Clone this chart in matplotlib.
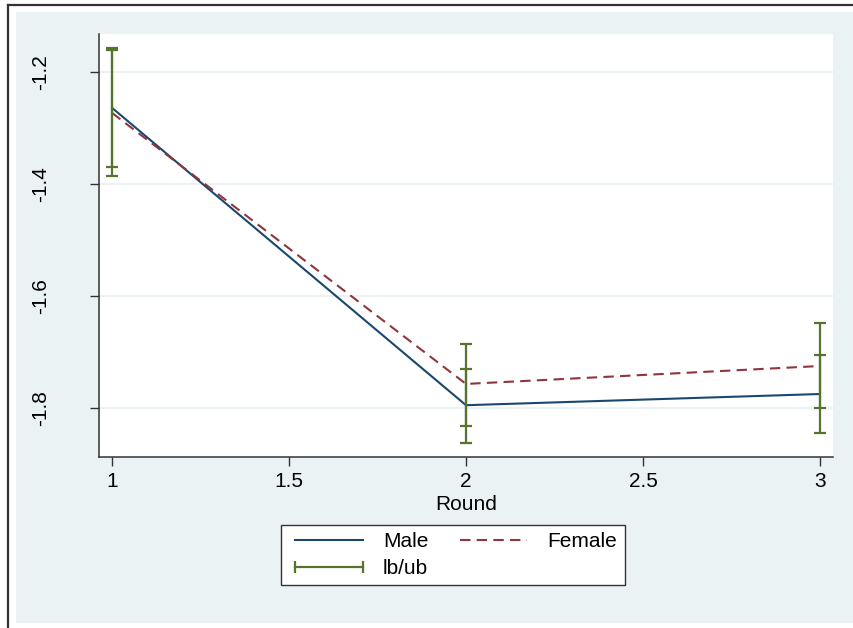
import matplotlib as mpl
mpl.use("Agg")
import matplotlib.pyplot as plt
from matplotlib.lines import Line2D
from matplotlib.patches import Rectangle
import numpy as np

rounds = [1, 2, 3]
male_mean = [-1.264, -1.795, -1.775]
female_mean = [-1.273, -1.757, -1.725]
male_lb = [-1.370, -1.862, -1.845]
male_ub = [-1.157, -1.730, -1.705]
female_lb = [-1.386, -1.832, -1.800]
female_ub = [-1.160, -1.686, -1.648]

xticks = [1, 1.5, 2, 2.5, 3]
xtick_labels = ["1", "1.5", "2", "2.5", "3"]
yticks = [-1.2, -1.4, -1.6, -1.8]
ytick_labels = ["-1.2", "-1.4", "-1.6", "-1.8"]

navy = "#1a476f"
maroon = "#90353b"
green = "#55752f"
bg = "#eaf2f3"

plt.rcParams["font.family"] = ["Liberation Sans", "DejaVu Sans"]
W, H = 854, 628
fig = plt.figure(figsize=(W / 100, H / 100), dpi=100)
fig.patch.set_facecolor("white")

# outer stata background and frame (cropped)
fig.patches.append(Rectangle((16 / W, 1 - 623 / H), 1, (623 - 12) / H,
                             transform=fig.transFigure, facecolor=bg, edgecolor="none", zorder=-10))
fig.lines.append(Line2D([8 / W, 8 / W], [0, 1 - 5 / H], transform=fig.transFigure, color="#333333", lw=1.6))
fig.lines.append(Line2D([8 / W, 1], [1 - 5 / H, 1 - 5 / H], transform=fig.transFigure, color="#333333", lw=1.6))

ax = fig.add_axes([99 / W, 1 - 457 / H, (833 - 99) / W, (457 - 34) / H])
ax.set_facecolor("white")
for s in ["top", "right"]:
    ax.spines[s].set_visible(False)
for s in ["left", "bottom"]:
    ax.spines[s].set_color("#333333")
    ax.spines[s].set_linewidth(1.1)

for y in yticks:
    ax.axhline(y, color=bg, lw=1.4, zorder=0)

male_line, = ax.plot(rounds, male_mean, color=navy, lw=1.5, zorder=2)
female_line, = ax.plot(rounds, female_mean, color=maroon, lw=1.5, ls=(0, (5, 3)), zorder=2)

m = np.array(male_mean)
f = np.array(female_mean)
ax.errorbar(rounds, m, yerr=[m - np.array(male_lb), np.array(male_ub) - m], fmt="none",
            ecolor=green, elinewidth=1.6, capsize=4, capthick=1.6, zorder=3)
ax.errorbar(rounds, f, yerr=[f - np.array(female_lb), np.array(female_ub) - f], fmt="none",
            ecolor=green, elinewidth=1.6, capsize=4, capthick=1.6, zorder=3)

ax.set_xlim(0.963, 3.037)
ax.set_ylim(-1.8875, -1.132)
ax.set_xticks(xticks)
ax.set_xticklabels(xtick_labels)
ax.set_yticks(yticks)
ax.set_yticklabels(ytick_labels, rotation=90, va="center")
ax.tick_params(axis="both", labelsize=15, length=6.5, width=1, color="#333333")
ax.tick_params(axis="y", pad=29)
ax.tick_params(axis="x", pad=4)
ax.set_xlabel("Round", fontsize=15, labelpad=3)

lbub = Line2D([0], [0], color=green, lw=1.6, marker="|", markersize=8, markeredgewidth=1.6)
leg = fig.legend([male_line, lbub, female_line], ["Male", "lb/ub", "Female"], ncol=2,
                 loc="upper center", bbox_to_anchor=(453 / W, 1 - 525 / H), bbox_transform=fig.transFigure,
                 fontsize=15, numpoints=2, handlelength=3.85, handletextpad=0.67, columnspacing=1.2,
                 labelspacing=0.36, borderpad=0.35, borderaxespad=0, fancybox=False, frameon=True,
                 framealpha=1)
leg.get_frame().set_edgecolor("#333333")
leg.get_frame().set_linewidth(1.0)
leg.get_frame().set_facecolor("white")

fig.savefig("out.png", dpi=100, facecolor=fig.get_facecolor())
